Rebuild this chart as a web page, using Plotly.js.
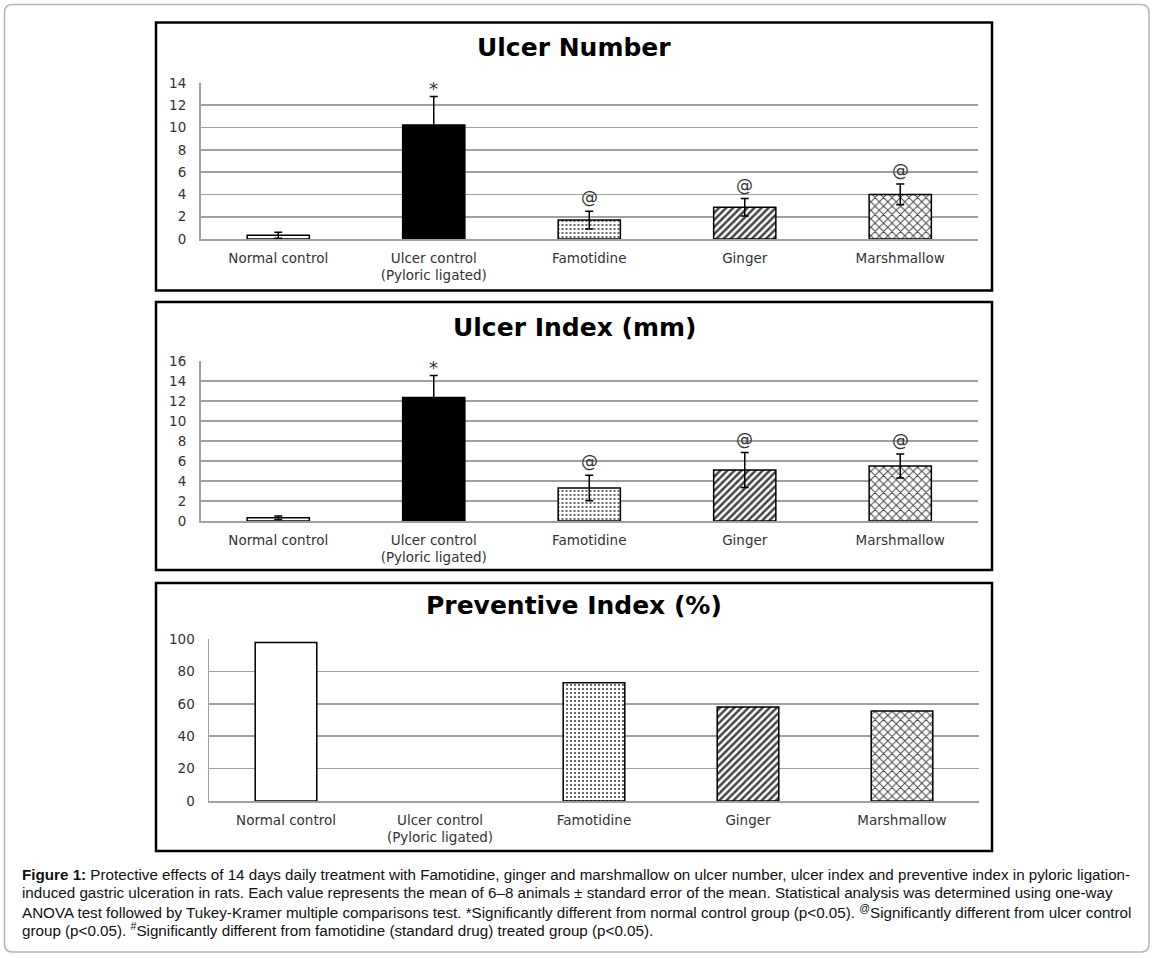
<!DOCTYPE html>
<html>
<head>
<meta charset="utf-8">
<script src="https://cdn.plot.ly/plotly-3.0.1.min.js"></script>
<style>
    body { margin: 0; background: #fff; }
    #plot { width: 1155px; height: 958px; }
</style>
</head>
<body>
<div id="plot"></div>
<script>
// groups on the x axis (same for the three panels)
const categories = [
    "Normal control",
    "Ulcer control<br>(Pyloric ligated)",
    "Famotidine",
    "Ginger",
    "Marshmallow"
];

// panel 1: ulcer number, mean and SEM
const ulcerNumber = [0.33, 10.23, 1.70, 2.85, 4.00];
const ulcerNumberSE = [0.27, 2.55, 0.80, 0.78, 0.93];
const ulcerNumberMarks = ["", "*", "@", "@", "@"];
const ulcerNumberTicks = [0, 2, 4, 6, 8, 10, 12, 14];

// panel 2: ulcer index (mm), mean and SEM
const ulcerIndex = [0.33, 12.35, 3.30, 5.10, 5.50];
const ulcerIndexSE = [0.17, 2.20, 1.28, 1.74, 1.20];
const ulcerIndexMarks = ["", "*", "@", "@", "@"];
const ulcerIndexTicks = [0, 2, 4, 6, 8, 10, 12, 14, 16];

// panel 3: preventive index (%)
const preventiveIndex = [97.8, 0, 73.0, 58.0, 55.5];
const preventiveTicks = [0, 20, 40, 60, 80, 100];

const panelTitles = ["Ulcer Number", "Ulcer Index (mm)", "Preventive Index (%)"];

const captionLines = [
    "<b>Figure 1:</b> Protective effects of 14 days daily treatment with Famotidine, ginger and marshmallow on ulcer number, ulcer index and preventive index in pyloric ligation-",
    "induced gastric ulceration in rats. Each value represents the mean of 6–8 animals ± standard error of the mean. Statistical analysis was determined using one-way",
    "ANOVA test followed by Tukey-Kramer multiple comparisons test. *Significantly different from normal control group (p<0.05). <sup>@</sup>Significantly different from ulcer control",
    "group (p<0.05). <sup>#</sup>Significantly different from famotidine (standard drug) treated group (p<0.05)."
];

// page is laid out in pixels, converted to paper fractions
const W = 1155, H = 958;
const px = x => x / W;
const py = y => 1 - y / H;

const chartFont = "DejaVu Sans, Verdana, sans-serif";
const textGrey = "#333";
const gridGrey = "#a0a0a0";

// fill of each group: plain white, solid black, dots, hatching, zigzag-ish
const fills = ["white", "black", "white", "white", "white"];
const shapes = ["", "", ".", "/", "x"];
const sizes = [6, 6, 4, 5, 6];
const solid = [0.2, 0.2, 0.22, 0.5, 0.3];

function barTrace(values, errors, axis, lineWidths){
    const trace = {
        type: "bar",
        x: categories,
        y: values,
        xaxis: "x" + axis,
        yaxis: "y" + axis,
        width: 0.4,
        marker: {
            color: fills,
            line: { color: "black", width: lineWidths || 1.5 },
            pattern: {
                shape: shapes,
                fillmode: "overlay",
                fgcolor: "black",
                fgopacity: 1,
                size: sizes,
                solidity: solid
            }
        },
        hoverinfo: "skip"
    };
    if(errors){
        trace.error_y = {
            type: "data",
            array: errors,
            color: "black",
            thickness: 1.5,
            width: 4
        };
    }
    return trace;
}

function xAxis(left, right, axis){
    return {
        domain: [px(left), px(right)],
        anchor: "y" + axis,
        type: "category",
        showgrid: false,
        showline: true,
        linecolor: gridGrey,
        linewidth: 1.5,
        ticks: "",
        ticklabelstandoff: 6,
        tickfont: { family: chartFont, size: 13.5, color: textGrey },
        fixedrange: true
    };
}

function yAxis(top, bottom, ticks, axis){
    return {
        domain: [py(bottom), py(top)],
        anchor: "x" + axis,
        range: [0, ticks[ticks.length - 1]],
        tickvals: ticks,
        showgrid: true,
        gridcolor: gridGrey,
        gridwidth: 1.6,
        zeroline: false,
        showline: true,
        linecolor: gridGrey,
        linewidth: 1.5,
        ticks: "",
        ticklabelstandoff: 10,
        tickfont: { family: chartFont, size: 13.5, color: textGrey },
        fixedrange: true
    };
}

function markAnnotations(values, errors, marks, axis){
    const out = [];
    marks.forEach((m, i) => {
        if(!m) return;
        out.push({
            xref: "x" + axis,
            yref: "y" + axis,
            x: categories[i],
            y: values[i] + errors[i],
            text: m,
            showarrow: false,
            yanchor: "bottom",
            yshift: m === "*" ? -4 : 2,
            font: { family: chartFont, size: m === "*" ? 18 : 17, color: textGrey }
        });
    });
    return out;
}

function panelBox(x0, y0, x1, y1){
    return {
        type: "rect",
        xref: "paper",
        yref: "paper",
        x0: px(x0), x1: px(x1),
        y0: py(y1), y1: py(y0),
        line: { color: "black", width: 2.5 },
        fillcolor: "rgba(0,0,0,0)",
        layer: "above"
    };
}

function roundedFrame(x0, y0, x1, y1, r){
    const p = (x, y) => px(x) + "," + py(y);
    const path =
        "M" + p(x0 + r, y0) +
        " L" + p(x1 - r, y0) +
        " Q" + p(x1, y0) + " " + p(x1, y0 + r) +
        " L" + p(x1, y1 - r) +
        " Q" + p(x1, y1) + " " + p(x1 - r, y1) +
        " L" + p(x0 + r, y1) +
        " Q" + p(x0, y1) + " " + p(x0, y1 - r) +
        " L" + p(x0, y0 + r) +
        " Q" + p(x0, y0) + " " + p(x0 + r, y0) + " Z";
    return {
        type: "path",
        xref: "paper",
        yref: "paper",
        path: path,
        line: { color: "#b5b5b5", width: 1.5 },
        fillcolor: "rgba(0,0,0,0)"
    };
}

const titleY = [47.5, 327.5, 605];

const annotations = [];
panelTitles.forEach((t, i) => {
    annotations.push({
        xref: "paper",
        yref: "paper",
        x: px(574),
        y: py(titleY[i]),
        text: t,
        showarrow: false,
        xanchor: "center",
        yanchor: "middle",
        font: { family: chartFont, size: 25, weight: 700, color: "black" }
    });
});

annotations.push(...markAnnotations(ulcerNumber, ulcerNumberSE, ulcerNumberMarks, ""));
annotations.push(...markAnnotations(ulcerIndex, ulcerIndexSE, ulcerIndexMarks, "2"));

const captionY = [874.5, 892.8, 911.1, 929.4];
captionLines.forEach((line, i) => {
    annotations.push({
        xref: "paper",
        yref: "paper",
        x: px(20),
        y: py(captionY[i]),
        text: line,
        showarrow: false,
        xanchor: "left",
        yanchor: "middle",
        font: { family: "Liberation Sans, Arial, sans-serif", size: 15.2, color: "#111" }
    });
});

const layout = {
    width: W,
    height: H,
    margin: { l: 0, r: 0, t: 0, b: 0 },
    paper_bgcolor: "white",
    plot_bgcolor: "white",
    showlegend: false,

    xaxis: xAxis(200.5, 978, ""),
    yaxis: yAxis(83, 239, ulcerNumberTicks, ""),

    xaxis2: xAxis(200.5, 978, "2"),
    yaxis2: yAxis(361, 521, ulcerIndexTicks, "2"),

    xaxis3: xAxis(209, 979, "3"),
    yaxis3: yAxis(639, 801, preventiveTicks, "3"),

    shapes: [
        roundedFrame(4.5, 4.5, 1149, 952, 8),
        panelBox(156, 22.5, 992, 290.5),
        panelBox(156, 302, 992, 570),
        panelBox(156, 583, 992, 851)
    ],

    annotations: annotations
};

const traces = [
    barTrace(ulcerNumber, ulcerNumberSE, ""),
    barTrace(ulcerIndex, ulcerIndexSE, "2"),
    // the empty ulcer-control bar gets no outline
    barTrace(preventiveIndex, null, "3", [1.5, 0, 1.5, 1.5, 1.5])
];

Plotly.newPlot("plot", traces, layout, { displayModeBar: false, staticPlot: true });
</script>
</body>
</html>
